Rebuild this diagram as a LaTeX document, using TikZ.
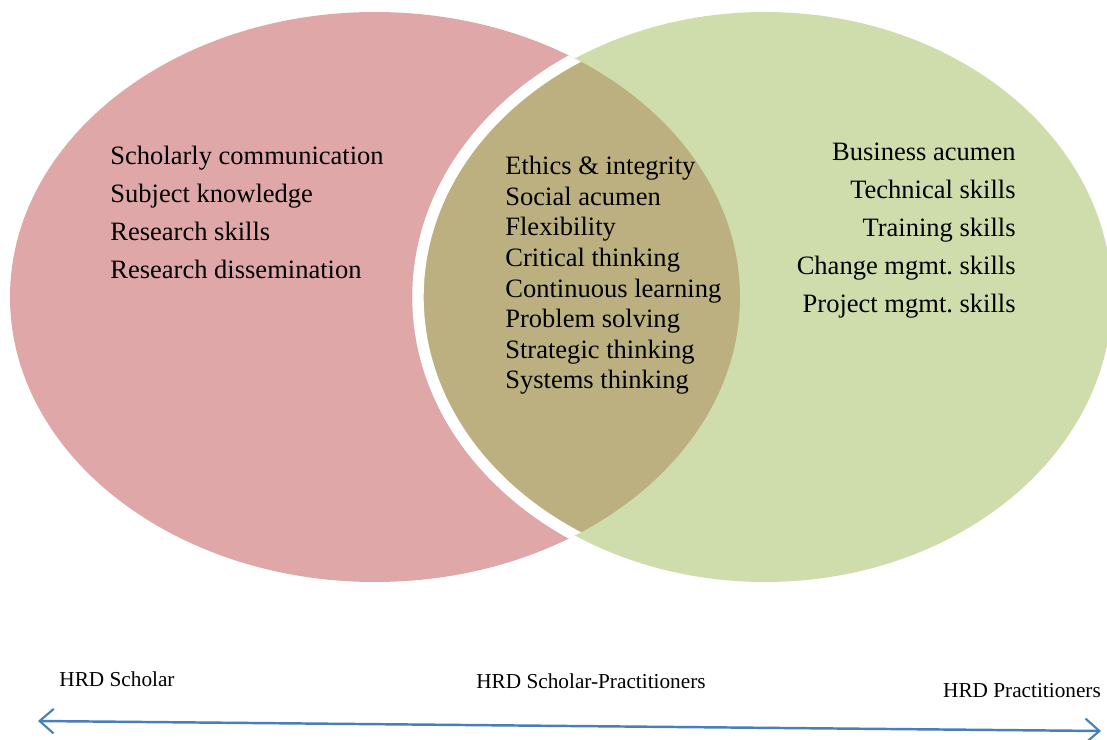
\documentclass[tikz,border=0pt]{standalone}
\usepackage{fontspec}
\setmainfont{Liberation Serif}
\usetikzlibrary{arrows.meta}

\definecolor{scholarred}{RGB}{223,167,167}
\definecolor{practgreen}{RGB}{207,221,172}
\definecolor{overlapolive}{RGB}{188,176,128}
\definecolor{axisblue}{RGB}{74,126,187}

\begin{document}
\begin{tikzpicture}[x=0.02cm, y=-0.02cm,
skills/.style={align=left, font=\fontsize{15.1}{21.6}\selectfont, inner sep=0pt},
shared/.style={align=left, font=\fontsize{15.1}{17.4}\selectfont, inner sep=0pt},
pole/.style={font=\fontsize{12.1}{14}\selectfont, inner sep=0pt},
continuum/.style={axisblue, line width=1.4pt, {Straight Barb[length=8pt, width=14pt, line width=1.2pt]}-{Straight Barb[length=8pt, width=14pt, line width=1.2pt]}}
]
\useasboundingbox (0,0) rectangle (1107,740);
\fill[scholarred] (375,297) ellipse [x radius=365, y radius=285];
\fill[practgreen] (765,297) ellipse [x radius=347, y radius=285];
\begin{scope}
  \clip (375,297) ellipse [x radius=365, y radius=285];
  \fill[overlapolive] (765,297) ellipse [x radius=347, y radius=285];
  \draw[white, line width=6.5pt] (765,297) ellipse [x radius=347, y radius=285];
\end{scope}

\node[skills, anchor=north west] (scholar) at (110,146)
  {Scholarly communication\\Subject knowledge\\Research skills\\Research dissemination};
\node[shared, anchor=north west] (both) at (505,156)
  {Ethics \& integrity\\Social acumen\\Flexibility\\Critical thinking\\Continuous learning\\Problem solving\\Strategic thinking\\Systems thinking};
\node[skills, align=right, anchor=north east] (practitioner) at (1016,143)
  {Business acumen\\Technical skills\\Training skills\\Change mgmt.\ skills\\Project mgmt.\ skills};

\node[pole] (lscholar) at (117,679) {HRD Scholar};
\node[pole] (lboth) at (591,681) {HRD Scholar-Practitioners};
\node[pole] (lpract) at (1022,691) {HRD Practitioners};

\coordinate (left end) at (38,721);
\coordinate (right end) at (1101,731);
\draw[continuum] (left end) -- (right end);
\end{tikzpicture}
\end{document}
